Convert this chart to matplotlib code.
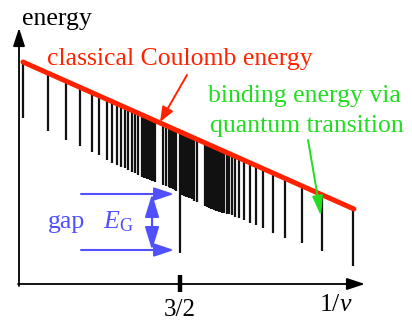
import numpy as np
import matplotlib
matplotlib.use('Agg')
import matplotlib.pyplot as plt

plt.rcParams['font.family'] = ['Liberation Serif', 'DejaVu Serif']
plt.rcParams['mathtext.fontset'] = 'custom'
plt.rcParams['mathtext.rm'] = 'Liberation Serif'
plt.rcParams['mathtext.it'] = 'Liberation Serif:italic'

# classical Coulomb energy (straight line), x = 1/nu
classical_x = [1.024, 2.027]
classical_E = [2.22, 0.75]

# states: position 1/nu and energy after quantum transition (bottom of each stick)
state_x = [1.024, 1.100, 1.155, 1.197, 1.233, 1.255, 1.279, 1.294, 1.309, 1.321,
           1.333, 1.342, 1.355, 1.364, 1.373,
           1.385, 1.388, 1.391, 1.394, 1.397, 1.400, 1.403, 1.406, 1.409, 1.412,
           1.415, 1.418, 1.421, 1.424,
           1.448, 1.458, 1.467, 1.471, 1.476, 1.480, 1.485, 1.489,
           1.500,
           1.506, 1.509, 1.512, 1.515, 1.518, 1.521, 1.524, 1.527, 1.530, 1.533, 1.536,
           1.542, 1.552,
           1.576, 1.579, 1.582, 1.585, 1.588, 1.591, 1.594, 1.597, 1.600, 1.603,
           1.606, 1.609, 1.612, 1.615, 1.618, 1.621,
           1.627, 1.633, 1.642, 1.648, 1.658, 1.667, 1.679, 1.694, 1.712, 1.730,
           1.752, 1.782, 1.818, 1.870, 1.930, 2.024]
state_E = [1.66, 1.53, 1.44, 1.38, 1.32, 1.29, 1.24, 1.21, 1.19, 1.17,
           1.16, 1.14, 1.12, 1.11, 1.09,
           1.07, 1.07, 1.06, 1.06, 1.06, 1.05, 1.05, 1.05, 1.04, 1.04,
           1.03, 1.03, 1.03, 1.02,
           0.99, 0.98, 0.97, 0.96, 0.96, 0.95, 0.94, 0.93,
           0.31,
           0.89, 0.89, 0.88, 0.88, 0.87, 0.87, 0.87, 0.86, 0.86, 0.86, 0.85,
           0.83, 0.82,
           0.78, 0.78, 0.77, 0.77, 0.76, 0.76, 0.75, 0.75, 0.75, 0.74,
           0.74, 0.73, 0.73, 0.73, 0.72, 0.72,
           0.71, 0.71, 0.70, 0.70, 0.69, 0.67, 0.66, 0.64, 0.61, 0.59,
           0.56, 0.51, 0.46, 0.41, 0.33, 0.18]

gap_x = 1.5
gap_top = 0.90
gap_bottom = 0.34

red = '#ff2200'
green = '#22dd22'
blue = '#5050ff'
fs = 18.5

fig = plt.figure(figsize=(4.12, 3.22), dpi=100)
ax = fig.add_axes([0, 0, 1, 1])
ax.set_xlim(0.9545, 2.2030)
ax.set_ylim(-0.38, 2.84)
ax.axis('off')

# sticks from classical energy down to quantum energy
tops = np.interp(state_x, classical_x, classical_E)
ax.vlines(state_x, state_E, tops, colors='#111111', lw=1.6, zorder=2)
ax.plot(classical_x, classical_E, color=red, lw=3.6, solid_capstyle='round', zorder=3)

# axes with arrows
ax.annotate('', xy=(1.0121, 2.56), xytext=(1.0121, -0.02),
            arrowprops=dict(arrowstyle='-|>,head_length=11,head_width=3.6', mutation_scale=1,
                            color='black', lw=1.3, shrinkA=0, shrinkB=0))
ax.annotate('', xy=(2.0606, 0.0), xytext=(1.0091, 0.0),
            arrowprops=dict(arrowstyle='-|>,head_length=11,head_width=3.6', mutation_scale=1,
                            color='black', lw=1.3, shrinkA=0, shrinkB=0))
ax.plot([gap_x, gap_x], [0.09, -0.08], color='black', lw=3.2, solid_capstyle='butt')

ax.text(1.0212, 2.59, 'energy', fontsize=fs, ha='left', va='baseline')
ax.text(1.5, -0.32, '3/2', fontsize=fs - 0.5, ha='center', va='baseline')
ax.text(1.921, -0.27, r'$1/\nu$', fontsize=fs, ha='left', va='baseline')

# red label
ax.text(1.097, 2.19, 'classical Coulomb energy', fontsize=fs, color=red, ha='left', va='baseline')
ax.annotate('', xy=(1.4394, 1.62), xytext=(1.5212, 2.09),
            arrowprops=dict(arrowstyle='-|>,head_length=9,head_width=3.6', mutation_scale=1,
                            color=red, lw=1.4, shrinkA=0, shrinkB=0))

# green label
ax.text(1.585, 1.82, 'binding energy via', fontsize=fs, color=green, ha='left', va='baseline')
ax.text(1.591, 1.52, 'quantum transition', fontsize=fs, color=green, ha='left', va='baseline')
ax.annotate('', xy=(1.9273, 0.68), xytext=(1.8879, 1.44),
            arrowprops=dict(arrowstyle='-|>,head_length=12,head_width=3.2', mutation_scale=1,
                            color=green, lw=1.4, shrinkA=0, shrinkB=0))

# gap
for yy in [gap_top, gap_bottom]:
    ax.annotate('', xy=(1.4818, yy), xytext=(1.2, yy),
                arrowprops=dict(arrowstyle='-|>,head_length=12,head_width=4', mutation_scale=1,
                                color=blue, lw=1.5, shrinkA=0, shrinkB=0))
ax.annotate('', xy=(1.4152, gap_top), xytext=(1.4152, gap_bottom),
            arrowprops=dict(arrowstyle='<|-|>,head_length=14,head_width=4.3', mutation_scale=1,
                            color=blue, lw=1.5, shrinkA=0, shrinkB=0))
ax.text(1.1, 0.56, 'gap', fontsize=fs, color=blue, ha='left', va='baseline')
ax.text(1.2667, 0.56, r'$E_{\mathrm{G}}$', fontsize=fs, color=blue, ha='left', va='baseline')

fig.savefig('out.png', dpi=100)
